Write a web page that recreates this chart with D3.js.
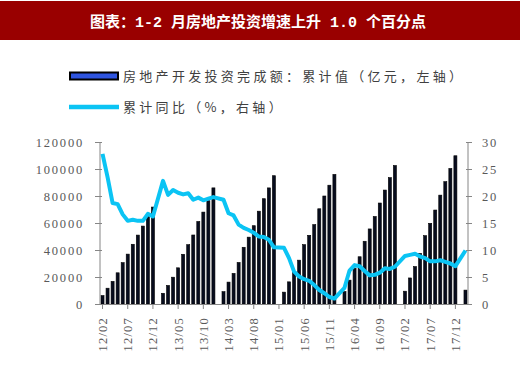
<!DOCTYPE html>
<html><head><meta charset="utf-8">
<script src="https://cdn.jsdelivr.net/npm/d3@7"></script>
<style>body{margin:0;background:#fff}svg{display:block}</style>
</head><body>
<svg id="c" width="520" height="369"></svg>
<script>
const categories = [
 "12/02","12/03","12/04","12/05","12/06","12/07","12/08","12/09","12/10","12/11","12/12",
 "13/01","13/02","13/03","13/04","13/05","13/06","13/07","13/08","13/09","13/10","13/11","13/12",
 "14/01","14/02","14/03","14/04","14/05","14/06","14/07","14/08","14/09","14/10","14/11","14/12",
 "15/01","15/02","15/03","15/04","15/05","15/06","15/07","15/08","15/09","15/10","15/11","15/12",
 "16/01","16/02","16/03","16/04","16/05","16/06","16/07","16/08","16/09","16/10","16/11","16/12",
 "17/01","17/02","17/03","17/04","17/05","17/06","17/07","17/08","17/09","17/10","17/11","17/12",
 "18/01","18/02"];
// 房地产开发投资完成额：累计值（亿元）
const investment = [
 6226,11703,16740,23111,30610,36950,44240,51046,57723,64749,71804,
 null,7932,13740,19856,26800,36828,43950,51120,61120,68078,76500,86013,
 null,9127,16220,22670,30760,42019,49520,58000,68751,78000,86000,95036,
 null,8786,16404,23674,32477,43955,50887,58800,70536,80000,88000,95979,
 null,9236,17677,26500,35000,46471,55600,64800,74800,84400,93600,102581,
 null,9478,19292,27732,37500,50610,59761,69600,80644,90600,100387,109799,
 null,10292];
// 累计同比（%）
const yoy = [
 27.8,23.5,18.7,18.5,16.6,15.4,15.6,15.4,15.4,16.7,16.2,
 null,22.8,20.2,21.1,20.6,20.3,20.5,19.3,19.7,19.2,19.5,19.8,
 null,19.3,16.8,16.4,14.7,14.1,13.7,13.2,12.5,12.4,11.9,10.5,
 null,10.4,8.5,6.0,5.1,4.6,4.3,3.5,2.6,2.0,1.3,1.0,
 null,3.0,6.2,7.2,7.0,6.1,5.3,5.4,5.8,6.6,6.5,6.9,
 null,8.9,9.1,9.3,8.8,8.5,7.9,7.9,8.1,7.8,7.5,7.0,
 null,9.9];
const xTickLabels = ["12/02","12/07","12/12","13/05","13/10","14/03","14/08","15/01","15/06","15/11","16/04","16/09","17/02","17/07","17/12"];
const leftTicks = [0,20000,40000,60000,80000,100000,120000];
const rightTicks = [0,5,10,15,20,25,30];
const titleParts = [["图表：","cjk"],["1-2 ","asc"],["月房地产投资增速上升","cjk"],[" 1.0 ","asc"],["个百分点","cjk"]];
const legendBar = "房地产开发投资完成额：累计值（亿元，左轴）";
const legendLine = "累计同比（%，右轴）";

const svg = d3.select("#c");
const axisCol = "#868686", textCol = "#595959";
const L = 100, R = 468, T = 142, B = 304;

// title bar
svg.append("rect").attr("x",0).attr("y",1).attr("width",520).attr("height",39).attr("fill","#990000");
const tt = svg.append("text").attr("x",258).attr("y",27).attr("text-anchor","middle")
  .attr("fill","#fff").attr("font-weight","bold").attr("font-size",15).attr("xml:space","preserve")
  .style("white-space","pre");
titleParts.forEach(([s,k])=>{
  tt.append("tspan").attr("font-family", k==="cjk" ? "'Noto Sans CJK SC',sans-serif" : "'Liberation Mono',monospace")
    .text(s);
});

// legend
svg.append("rect").attr("x",70).attr("y",72.5).attr("width",48).attr("height",7)
  .attr("fill","#2f55e0").attr("stroke","#000").attr("stroke-width",2);
svg.append("line").attr("x1",69).attr("x2",119).attr("y1",107).attr("y2",107)
  .attr("stroke","#0bc4f4").attr("stroke-width",4.5);
const lg = [[legendBar,81],[legendLine,112]];
lg.forEach(([t,y])=>{
  svg.append("text").attr("x",123).attr("y",y).attr("fill","#404040")
   .attr("font-family","'Noto Sans CJK SC',sans-serif").attr("font-size",13)
   .attr("letter-spacing","3.3px").text(t);
});

const x = d3.scaleBand().domain(categories).range([L,R]).paddingInner(0.4).paddingOuter(0.2);
const yL = d3.scaleLinear().domain([0,120000]).range([B,T]);
const yR = d3.scaleLinear().domain([0,30]).range([B,T]);

// bars
svg.append("g").selectAll("rect").data(categories.map((c,i)=>({c,v:investment[i]})).filter(d=>d.v!=null))
 .join("rect").attr("x",d=>x(d.c)).attr("width",x.bandwidth())
 .attr("y",d=>yL(d.v)).attr("height",d=>B-yL(d.v))
 .attr("fill","#070c1e").attr("stroke","#000").attr("stroke-width",0.6);

// axes
const axG = svg.append("g").attr("stroke",axisCol).attr("stroke-width",1).attr("fill","none");
axG.append("line").attr("x1",L).attr("x2",L).attr("y1",T).attr("y2",B);
axG.append("line").attr("x1",R).attr("x2",R).attr("y1",T).attr("y2",B);
axG.append("line").attr("x1",L-3).attr("x2",R+3).attr("y1",B+0.5).attr("y2",B+0.5);
leftTicks.forEach(v=>{axG.append("line").attr("x1",L-5).attr("x2",L+2).attr("y1",Math.round(yL(v))+0.5).attr("y2",Math.round(yL(v))+0.5);});
rightTicks.forEach(v=>{axG.append("line").attr("x1",R-2).attr("x2",R+4).attr("y1",Math.round(yR(v))+0.5).attr("y2",Math.round(yR(v))+0.5);});
xTickLabels.forEach(c=>{const cx=x(c)+x.bandwidth()/2; axG.append("line").attr("x1",cx).attr("x2",cx).attr("y1",B).attr("y2",B+5);});

const font = "'Liberation Serif','Times New Roman',serif";
svg.append("g").selectAll("text").data(leftTicks).join("text")
 .attr("x",84).attr("y",d=>yL(d)+4.5).attr("text-anchor","end").attr("fill",textCol)
 .attr("font-family",font).attr("font-size",12.5).attr("letter-spacing","1.8px").text(d=>d);
svg.append("g").selectAll("text").data(rightTicks).join("text")
 .attr("x",482).attr("y",d=>yR(d)+4.5).attr("fill",textCol)
 .attr("font-family",font).attr("font-size",12.5).attr("letter-spacing","1.8px").text(d=>d);
svg.append("g").selectAll("text").data(xTickLabels).join("text")
 .attr("transform",d=>`translate(${x(d)+x.bandwidth()/2+4.5},317) rotate(-90)`)
 .attr("text-anchor","end").attr("fill",textCol)
 .attr("font-family",font).attr("font-size",12.5).attr("letter-spacing","1.2px").text(d=>d);

// line
const pts = categories.map((c,i)=>({c,v:yoy[i]})).filter(d=>d.v!=null);
svg.append("path").datum(pts).attr("fill","none").attr("stroke","#0bc4f4").attr("stroke-width",4)
 .attr("stroke-linejoin","round")
 .attr("d",d3.line().x(d=>x(d.c)+x.bandwidth()/2).y(d=>yR(d.v)));
</script>
</body></html>
